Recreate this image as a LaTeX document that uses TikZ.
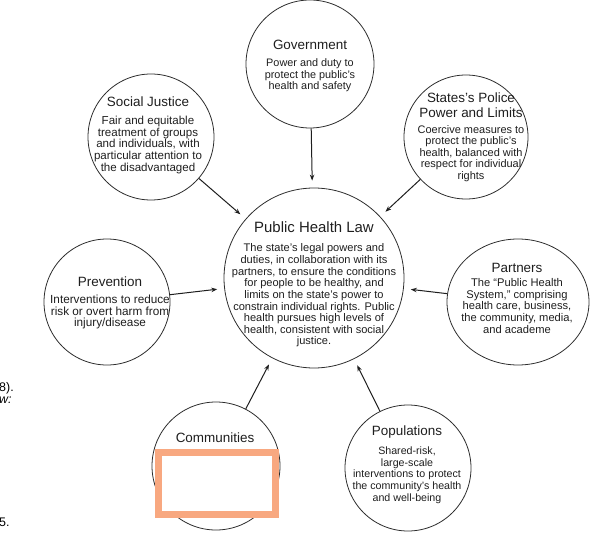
\documentclass[tikz,border=0pt]{standalone}
\usepackage{fontspec}
\setmainfont{Liberation Sans}
\usetikzlibrary{arrows.meta,shapes.geometric}
\definecolor{ring}{RGB}{45,45,45}
\definecolor{mark}{RGB}{248,168,128}
\definecolor{ink}{RGB}{30,30,30}
\begin{document}
\begin{tikzpicture}[x=1bp,y=-1bp,
  bubble/.style={circle,draw=ring,line width=0.8bp,inner sep=0,minimum size=#1},
  ttl/.style={font=\fontsize{13.5}{15}\selectfont,text=ink,inner sep=0,align=center},
  bigttl/.style={font=\fontsize{15}{17}\selectfont,text=ink,inner sep=0,align=center},
  body/.style={font=\fontsize{#1}{11.7}\selectfont,text=ink,inner sep=0,align=center},
  body/.default=10.8,
  frag/.style={font=\fontsize{12.5}{14}\selectfont,inner sep=0,anchor=west},
  link/.style={-{Stealth[length=6bp,width=4.5bp]},line width=1bp,draw=ink,shorten >=7bp}]
\useasboundingbox (0,0) rectangle (592,541);

% circles
\node[bubble=180bp] (law) at (314,278) {};
\node[bubble=128bp] (gov) at (310,64) {};
\node[bubble=126bp] (sj) at (151,137) {};
\node[bubble=124bp] (pol) at (466,137) {};
\node[bubble=126bp] (prev) at (107,302) {};
\node[ellipse,draw=ring,line width=0.8bp,inner sep=0,minimum width=142bp,minimum height=126bp] (part) at (518,302) {};
\node[bubble=128bp] (comm) at (216,466) {};
\node[bubble=126bp] (pop) at (408,468) {};

% texts
\node[bigttl] (lawt) at (314,227) {Public Health Law};
\node[body=11.1] (lawb) at (314,295.5) {The state's legal powers and\\duties, in collaboration with its\\partners, to ensure the conditions\\for people to be healthy, and\\limits on the state's power to\\constrain individual rights. Public\\health pursues high levels of\\health, consistent with social\\justice.};

\node[ttl] (govt) at (310,45) {Government};
\node[body=10.9] (govb) at (310,75.5) {Power and duty to\\protect the public's\\health and safety};

\node[ttl] (sjt) at (148,102) {Social Justice};
\node[body=11.6] (sjb) at (148,145) {Fair and equitable\\treatment of groups\\and individuals, with\\particular attention to\\the disadvantaged};

\node[ttl] (polt) at (471,105) {States's Police\\Power and Limits};
\node[body=11] (polb) at (471,153.5) {Coercive measures to\\protect the public's\\health, balanced with\\respect for individual\\rights};

\node[ttl] (prevt) at (110,282) {Prevention};
\node[body=11.8] (prevb) at (110,312) {Interventions to reduce\\risk or overt harm from\\injury/disease};

\node[ttl] (partt) at (517,268) {Partners};
\node[body=11.2] (partb) at (517,306) {The ``Public Health\\System,'' comprising\\health care, business,\\the community, media,\\and academe};

\node[ttl] (commt) at (215,438) {Communities};

\node[ttl] (popt) at (407,432) {Populations};
\node[body=10.7] (popb) at (407,475) {Shared-risk,\\large-scale\\interventions to protect\\the community's health\\and well-being};

% connectors
\draw[link] (gov) -- (law);
\draw[link] (sj) -- (law);
\draw[link] (pol) -- (law);
\draw[link] (prev) -- (law);
\draw[link] (part) -- (law);
\draw[link] (comm) -- (law);
\draw[link] (pop) -- (law);

% highlight box
\node[draw=mark,line width=7bp,fill=white,inner sep=0,minimum width=117bp,minimum height=62bp] (hide) at (217,483.5) {};

% page fragments
\node[frag] (f1) at (-1,388) {8).};
\node[frag] (f2) at (-1,400) {\itshape w:};
\node[frag] (f3) at (-1,522) {5.};
\end{tikzpicture}
\end{document}
